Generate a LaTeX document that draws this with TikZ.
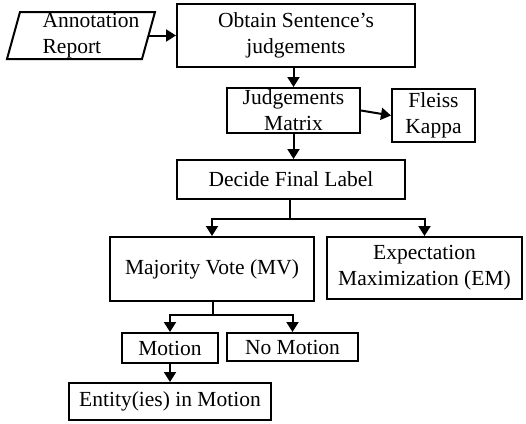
\documentclass[tikz,border=0pt]{standalone}
\usepackage{fontspec}
\setmainfont{Liberation Serif}
\usetikzlibrary{arrows.meta,calc}
\begin{document}
\begin{tikzpicture}[x=1pt,y=-1pt,
  every node/.style={font=\fontsize{21.5}{26}\selectfont},
  box/.style={draw,line width=2pt,inner sep=0pt,align=center,anchor=center},
  arr/.style={line width=2pt,-{Triangle[length=10pt,width=12pt]}}]
\useasboundingbox (0,0) rectangle (526,423);
\coordinate (pbl) at (7,59);
\coordinate (ptl) at (20,12);
\coordinate (ptr) at (155,12);
\coordinate (pbr) at (142,59);
\coordinate (pright) at (148.5,35.5);
\draw[line width=2pt,line join=miter] (pbl) -- (ptl) -- (ptr) -- (pbr) -- cycle;
\node[align=left,inner sep=0pt] (ann) at (91,36) {Annotation\\Report};
\node[box,minimum width=238pt,minimum height=63pt] (obtain) at (296,35.5) {Obtain Sentence’s\\judgements};
\node[box,minimum width=133pt,minimum height=45pt] (judg) at (293.5,110.5) {Judgements\\Matrix};
\node[box,minimum width=83pt,minimum height=53pt] (fleiss) at (433.5,115.5) {Fleiss\\Kappa};
\node[box,minimum width=228pt,minimum height=39pt] (decide) at (291,179.5) {Decide Final Label};
\node[box,minimum width=204pt,minimum height=64pt] (mv) at (212,269) {Majority Vote (MV)};
\node[box,minimum width=195pt,minimum height=62pt] (em) at (424.5,268) {Expectation\\Maximization (EM)};
\node[box,minimum width=96pt,minimum height=30pt] (motion) at (170,348) {Motion};
\node[box,minimum width=131pt,minimum height=28pt] (nomotion) at (292.5,347) {No Motion};
\node[box,minimum width=202pt,minimum height=37pt] (entity) at (170,401.5) {Entity(ies) in Motion};
\coordinate (split1) at (290,219);
\coordinate (split2) at (213,315);
\draw[arr] (pright) -- (obtain.west);
\draw[arr] (judg.north |- obtain.south) -- (judg.north);
\draw[arr] (judg.east) -- (fleiss.west);
\draw[arr] (judg.south) -- (judg.south |- decide.north);
\draw[line width=2pt] (split1 |- decide.south) -- (split1);
\draw[arr] (split1) -| (mv.north);
\draw[arr] (split1) -| (em.north);
\draw[line width=2pt] (split2 |- mv.south) -- (split2);
\draw[arr] (split2) -| (motion.north);
\draw[arr] (split2) -| (nomotion.north);
\draw[arr] (motion.south) -- (entity.north);
\end{tikzpicture}
\end{document}
